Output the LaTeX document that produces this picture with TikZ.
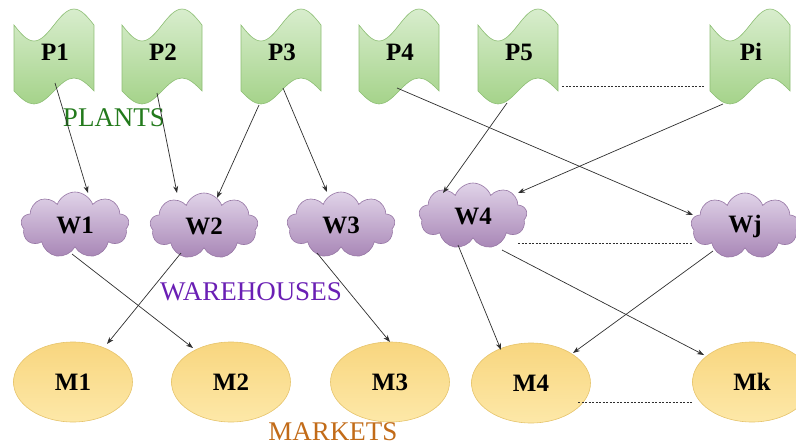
\documentclass[tikz,border=0pt]{standalone}
\usepackage{fontspec}
\setmainfont{Liberation Serif}
\usetikzlibrary{shapes.symbols,shapes.geometric,arrows.meta,calc}
\definecolor{plantTop}{HTML}{D8EDCD}
\definecolor{plantBot}{HTML}{A5D38A}
\definecolor{plantLine}{HTML}{8DBE74}
\definecolor{cloudTop}{HTML}{E0D3E8}
\definecolor{cloudBot}{HTML}{A886B6}
\definecolor{cloudLine}{HTML}{9676A4}
\definecolor{mktTop}{HTML}{F8D67F}
\definecolor{mktBot}{HTML}{FDE8A8}
\definecolor{mktLine}{HTML}{E6C46C}
\definecolor{plantText}{HTML}{237A1C}
\definecolor{whText}{HTML}{6A1FB4}
\definecolor{mktText}{HTML}{C26B18}
\definecolor{arrowGray}{HTML}{2E2E2E}
\tikzset{
  nodefont/.style={font=\fontsize{25}{29}\selectfont\bfseries},
  plantshade/.style={top color=plantTop,bottom color=plantBot,draw=plantLine,line width=0.6pt},
  plant/.style={nodefont,inner sep=0pt},
  wh/.style={cloud,cloud puffs=9,cloud puff arc=140,aspect=1.6,draw=cloudLine,line width=0.6pt,
    top color=cloudTop,bottom color=cloudBot,minimum width=108pt,minimum height=66pt,inner sep=0pt,nodefont},
  mkt/.style={ellipse,draw=mktLine,line width=0.6pt,top color=mktTop,bottom color=mktBot,
    minimum width=119pt,minimum height=80pt,inner sep=0pt,nodefont},
  arr/.style={draw=arrowGray,line width=0.7pt,-{Stealth[length=7pt,width=5pt]}},
  dotline/.style={draw=arrowGray,line width=0.6pt,dash pattern=on 2pt off 1.5pt},
  grouplabel/.style={font=\fontsize{27}{32}\selectfont,inner sep=0pt}
}
\newcommand\plantat[3]{%
  \shade[plantshade] (#2-40,25) sin (#2-20,41) cos (#2,25) sin (#2+20,9) cos (#2+40,25)
    -- (#2+40,91) sin (#2+20,78) cos (#2,91) sin (#2-20,104) cos (#2-40,91) -- cycle;
  \node[plant] (#1) at (#2+1,52) {#3};
}
\begin{document}
\begin{tikzpicture}[x=1pt,y=-1pt]
\useasboundingbox (0,0) rectangle (796,447);
% plants
\plantat{P1}{54}{P1}
\plantat{P2}{162}{P2}
\plantat{P3}{281}{P3}
\plantat{P4}{399}{P4}
\plantat{P5}{518}{P5}
\plantat{Pi}{750}{Pi}
% warehouses
\node[wh] (W1) at (75,225) {W1};
\node[wh] (W2) at (204,226) {W2};
\node[wh] (W3) at (341,225) {W3};
\node[wh] (W4) at (473,216) {W4};
\node[wh] (Wj) at (745,226) {Wj};
% markets
\node[mkt] (M1) at (73,382) {M1};
\node[mkt] (M2) at (231,382) {M2};
\node[mkt] (M3) at (390,382) {M3};
\node[mkt] (M4) at (531,383) {M4};
\node[mkt] (Mk) at (752,382) {Mk};
% group labels
\node[grouplabel,text=plantText] (LP) at (114,118) {PLANTS};
\node[grouplabel,text=whText] (LW) at (251,292) {WAREHOUSES};
\node[grouplabel,text=mktText] (LM) at (333,432) {MARKETS};
% arrows plants -> warehouses
\draw[arr] ($(P1)+(0,31)$) -- ($(W1)+(13,-32)$);
\draw[arr] ($(P2)+(-6,41)$) -- ($(W2)+(-27,-33)$);
\draw[arr] ($(P3)+(-23,53)$) -- ($(W2)+(13,-28)$);
\draw[arr] ($(P3)+(1,36)$) -- ($(W3)+(-14,-33)$);
\draw[arr] ($(P4)+(-3,36)$) -- ($(Wj)+(-52,-11)$);
\draw[arr] ($(P5)+(-12,51)$) -- ($(W4)+(-30,-23)$);
\draw[arr] ($(Pi)+(-28,52)$) -- ($(W4)+(45,-23)$);
% arrows warehouses -> markets
\draw[arr] ($(W1)+(-3,29)$) -- ($(M2)+(-38,-34)$);
\draw[arr] ($(W2)+(-23,27)$) -- ($(M1)+(34,-38)$);
\draw[arr] ($(W3)+(-24,28)$) -- ($(M3)+(0,-40)$);
\draw[arr] ($(W4)+(-15,29)$) -- ($(M4)+(-30,-33)$);
\draw[arr] ($(W4)+(29,34)$) -- ($(Mk)+(-48,-27)$);
\draw[arr] ($(Wj)+(-32,25)$) -- ($(M4)+(42,-30)$);
% dashed continuation lines
\draw[dotline] ($(P5)+(43,34)$) -- ($(Pi)+(-46,34)$);
\draw[dotline] ($(W4)+(45,27)$) -- ($(Wj)+(-52,17)$);
\draw[dotline] ($(M4)+(47,19)$) -- ($(Mk)+(-59,20)$);
\end{tikzpicture}
\end{document}
